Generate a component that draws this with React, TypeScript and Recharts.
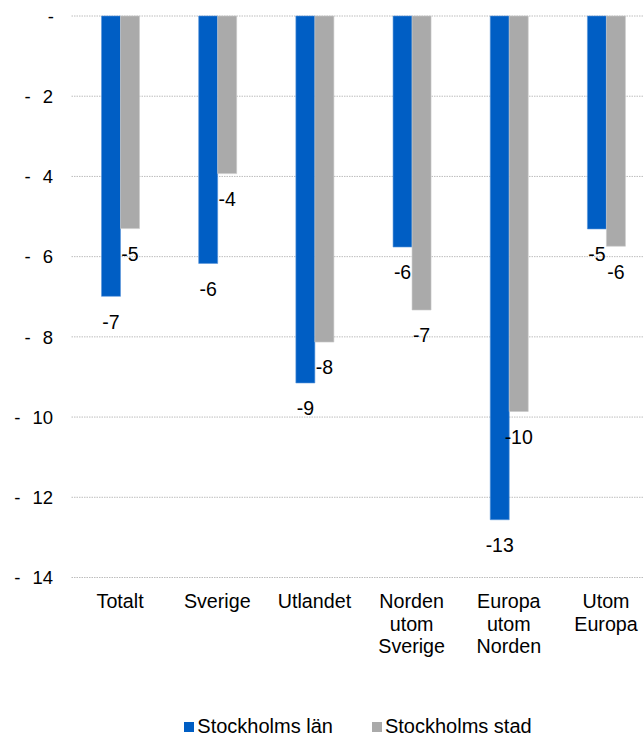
import { Bar, BarChart, CartesianGrid, LabelList, Legend, XAxis, YAxis } from 'recharts';

const categories = ['Totalt', 'Sverige', 'Utlandet', 'Norden\nutom\nSverige', 'Europa\nutom\nNorden', 'Utom\nEuropa'];
const lan = [-6.99, -6.17, -9.15, -5.76, -12.56, -5.31];
const stad = [-5.3, -3.93, -8.13, -7.33, -9.86, -5.74];
const yTicks = [0, -2, -4, -6, -8, -10, -12, -14];

const BLUE = '#005EC4';
const GRAY = '#AAAAAA';
const FONT = '"Liberation Sans", Arial, sans-serif';

const rows = categories.map((c, i) => ({ cat: c, lan: lan[i], stad: stad[i] }));

function YTick({ x, y, payload }: any) {
  const v = Math.abs(payload.value);
  if (v === 0) {
    return (
      <text x={x + 1} y={y + 6.7} textAnchor="end" fontSize={18.5} fontFamily={FONT} fill="#000">
        -
      </text>
    );
  }
  const s = String(v);
  const start = x - s.length * 10.3;
  return (
    <g fontSize={18.5} fontFamily={FONT} fill="#000">
      <text x={x} y={y + 6.7} textAnchor="end">{s}</text>
      <text x={start - 12} y={y + 6.7} textAnchor="end">-</text>
    </g>
  );
}

function XTick({ x, y, payload }: any) {
  const lines = String(payload.value).split('\n');
  return (
    <text x={x} y={y + 30.8} textAnchor="middle" fontSize={19.7} fontFamily={FONT} fill="#000">
      {lines.map((l, i) => (
        <tspan key={i} x={x} dy={i === 0 ? 0 : 22.5}>{l}</tspan>
      ))}
    </text>
  );
}

function BarLabel({ x, y, width, height, value }: any) {
  const bottom = Math.max(y, y + height);
  return (
    <text x={x + width / 2} y={bottom + 32.4} textAnchor="middle" fontSize={19.5} fontFamily={FONT} fill="#000">
      {Math.round(value)}
    </text>
  );
}

function LegendBox() {
  const items = [
    { name: 'Stockholms län', color: BLUE },
    { name: 'Stockholms stad', color: GRAY },
  ];
  return (
    <div style={{ display: 'flex', justifyContent: 'center', fontFamily: FONT, fontSize: 20, color: '#000' }}>
      {items.map((it, i) => (
        <div key={it.name} style={{ display: 'flex', alignItems: 'center', marginLeft: i ? 39 : 0 }}>
          <span style={{ display: 'inline-block', width: 10, height: 10, background: it.color, marginRight: 3 }} />
          <span>{it.name}</span>
        </div>
      ))}
    </div>
  );
}

export default function App() {
  return (
    <div style={{ position: 'absolute', left: 0, top: 0, width: 643, height: 740, overflow: 'hidden', background: '#fff' }}>
      <BarChart
        width={660}
        height={740}
        data={rows}
        margin={{ top: 16, right: 5.4, left: 0, bottom: 102.5 }}
        barGap={0}
      >
        <CartesianGrid vertical={false} stroke="#BDBDBD" strokeDasharray="1.5 1" />
        <XAxis
          dataKey="cat"
          axisLine={false}
          tickLine={false}
          tickSize={0}
          tickMargin={0}
          height={60}
          interval={0}
          tick={<XTick />}
        />
        <YAxis
          domain={[-14, 0]}
          ticks={yTicks}
          axisLine={false}
          tickLine={false}
          tickSize={0}
          tickMargin={18.5}
          width={71.5}
          interval={0}
          tick={<YTick />}
        />
        <Legend
          verticalAlign="middle"
          align="center"
          layout="horizontal"
          wrapperStyle={{ top: 715, left: 0, width: 716 }}
          content={() => <LegendBox />}
        />
        <Bar dataKey="lan" name="Stockholms län" fill={BLUE} stroke="#5A95DA" strokeWidth={0.6} barSize={19} isAnimationActive={false}>
          <LabelList dataKey="lan" content={<BarLabel />} />
        </Bar>
        <Bar dataKey="stad" name="Stockholms stad" fill={GRAY} stroke="#C9C9C9" strokeWidth={0.6} barSize={19} isAnimationActive={false}>
          <LabelList dataKey="stad" content={<BarLabel />} />
        </Bar>
      </BarChart>
    </div>
  );
}
